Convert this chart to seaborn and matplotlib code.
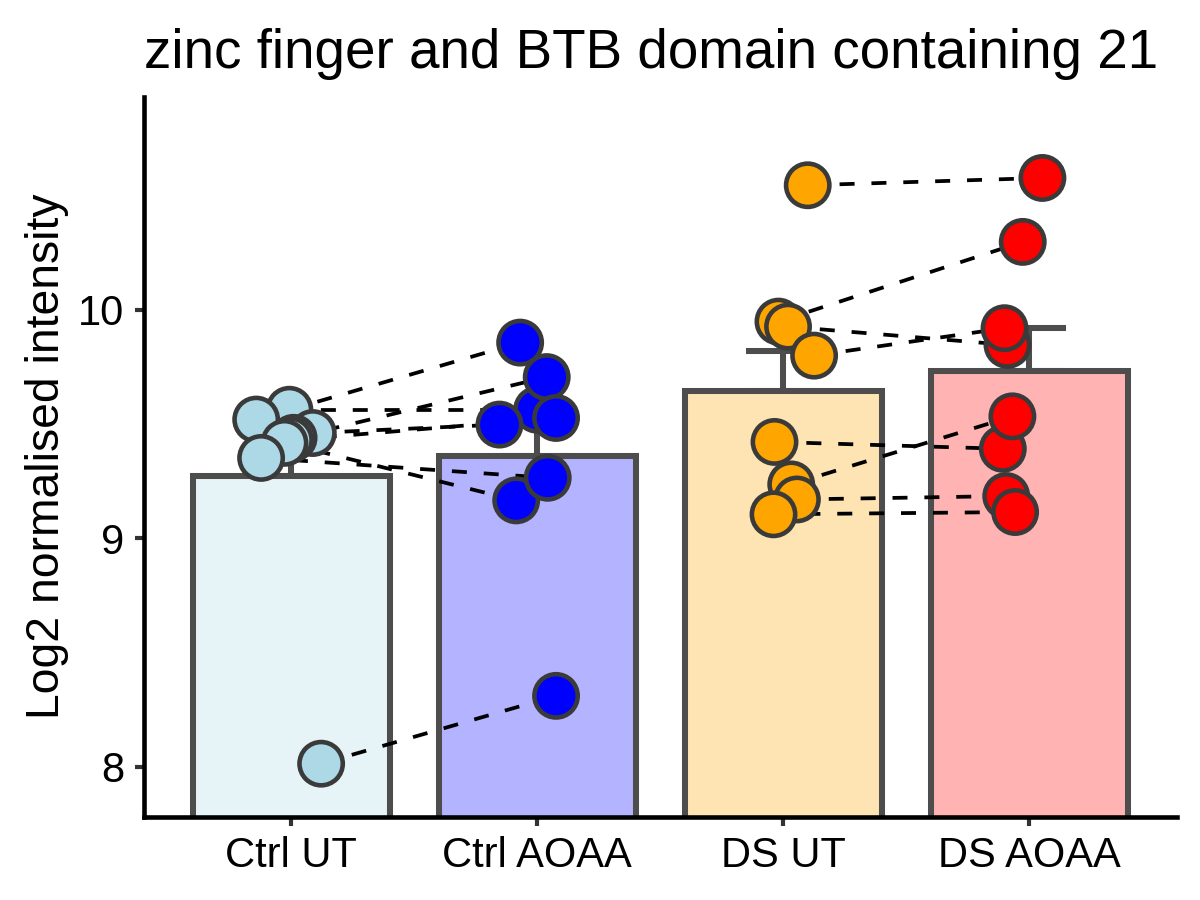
import numpy as np
import pandas as pd
import matplotlib
matplotlib.use("Agg")
import matplotlib.pyplot as plt
import matplotlib.colors as mcolors
import seaborn as sns

# groups shown on the x axis
groups = ["Ctrl UT", "Ctrl AOAA", "DS UT", "DS AOAA"]

# log2 normalised intensity per sample, same sample order within each pair (UT -> AOAA)
ctrl_ut = [9.563, 9.52, 9.461, 9.44, 9.43, 9.418, 9.352, 8.013]
ctrl_aoaa = [9.563, 9.857, 9.498, 9.706, 9.527, 9.166, 9.265, 8.31]
ds_ut = [10.546, 9.949, 9.927, 9.80, 9.422, 9.236, 9.17, 9.105]
ds_aoaa = [10.578, 10.298, 9.847, 9.92, 9.392, 9.534, 9.185, 9.115]

# horizontal jitter of each point (in category widths)
ctrl_ut_jit = [-0.007, -0.142, 0.088, 0.01, -0.005, -0.027, -0.122, 0.122]
ctrl_aoaa_jit = [0.0, -0.069, -0.153, 0.039, 0.077, -0.085, 0.043, 0.077]
ds_ut_jit = [0.100, -0.019, 0.02, 0.126, -0.035, 0.033, 0.056, -0.039]
ds_aoaa_jit = [0.054, -0.026, -0.088, -0.100, -0.107, -0.068, -0.093, -0.057]

point_cols = {"Ctrl UT": "lightblue", "Ctrl AOAA": "blue", "DS UT": "orange", "DS AOAA": "red"}

# build long table
rows = []
series = [(ctrl_ut, ctrl_ut_jit, "Ctrl"), (ctrl_aoaa, ctrl_aoaa_jit, "Ctrl"),
          (ds_ut, ds_ut_jit, "DS"), (ds_aoaa, ds_aoaa_jit, "DS")]
for gi, (vals, jit, geno) in enumerate(series):
    for si, (v, j) in enumerate(zip(vals, jit)):
        rows.append({"group": groups[gi], "value": v, "xpos": gi + j,
                     "pair": f"{geno}_{si}"})
df = pd.DataFrame(rows)

# bar fill = point colour at 30% opacity on white
bar_cols = {}
for g, c in point_cols.items():
    rgb = np.array(mcolors.to_rgb(c))
    bar_cols[g] = tuple(0.3 * rgb + 0.7)

stats = df.groupby("group", sort=False)["value"].agg(["mean", "sem"]).reindex(groups)

sns.set_style("ticks")
plt.rcParams["font.family"] = ["Liberation Sans", "DejaVu Sans"]
plt.rcParams["text.color"] = "black"

fig = plt.figure(figsize=(4, 3), dpi=300)
ax = fig.add_axes([0.1196, 0.0926, 0.861, 0.80])

# mean + SE (upper half only shows, the bar hides the rest)
ax.errorbar(np.arange(len(groups)), stats["mean"], yerr=[np.zeros(len(groups)), stats["sem"]],
            fmt="none", ecolor="#4d4d4d", elinewidth=1.45, capsize=8.9, capthick=1.45, zorder=0.5)

sns.barplot(data=df, x="group", y="value", order=groups, hue="group", hue_order=groups,
            palette=bar_cols, saturation=1, errorbar=None, width=0.8, edgecolor="#4d4d4d",
            linewidth=1.45, legend=False, ax=ax, zorder=1)

# paired samples
sns.lineplot(data=df, x="xpos", y="value", units="pair", estimator=None, color="black",
             linewidth=0.9, linestyle=(0, (4.0, 4.5)), legend=False, ax=ax, zorder=2)

sns.scatterplot(data=df, x="xpos", y="value", hue="group", palette=point_cols, s=108,
                edgecolor="#3a3a3a", linewidth=1.1, legend=False, ax=ax, zorder=3)

ax.set_xlim(-0.6, 3.6)
ax.set_ylim(7.781, 10.934)
ax.set_yticks([8, 9, 10])
ax.set_xticks(range(len(groups)))
ax.set_xticklabels(groups)
ax.set_xlabel("")
ax.set_ylabel("Log2 normalised intensity", fontsize=11.1, color="black", labelpad=2)
ax.set_title("zinc finger and BTB domain containing 21", loc="left", fontsize=13.15,
             pad=6.9, color="black")

sns.despine(ax=ax)
for side in ["left", "bottom"]:
    ax.spines[side].set_color("black")
    ax.spines[side].set_linewidth(1.1)
ax.tick_params(axis="both", length=2.2, width=1.0, color="#333333", labelsize=10,
               labelcolor="black", pad=2.5)

fig.savefig("out.png", dpi=300)
